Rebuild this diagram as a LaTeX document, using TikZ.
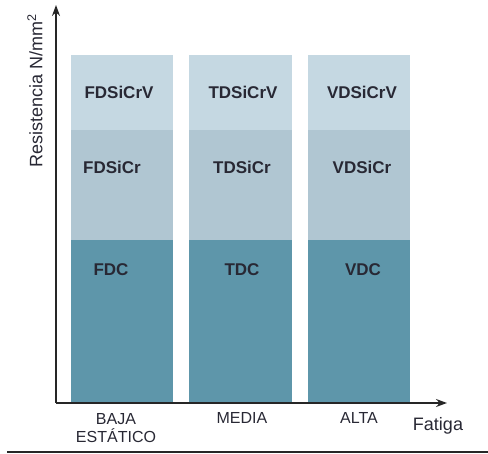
\documentclass[tikz,border=0pt]{standalone}
\usepackage{fontspec}
\setmainfont{Liberation Sans}
\usepackage{tikz}
\usetikzlibrary{arrows.meta}

\definecolor{capaalta}{RGB}{197,216,226}
\definecolor{capamedia}{RGB}{176,198,210}
\definecolor{capabaja}{RGB}{94,150,170}
\definecolor{ejes}{RGB}{38,38,38}
\definecolor{texto}{RGB}{40,40,52}

\tikzset{
    acero/.style = {text = texto, font = \fontsize{17}{20}\selectfont\bfseries},
    nivel/.style = {text = texto, font = \fontsize{16}{19}\selectfont, align = center},
    eje/.style = {ejes, line width = 1.5pt, -{Stealth[length = 11pt, width = 8pt]}}
}

\begin{document}
\begin{tikzpicture}[x = 1pt, y = 1pt]
            \useasboundingbox (0,0) rectangle (488,454);

            % columnas
            \fill [capabaja] (71,51) rectangle (173,214);
            \fill [capamedia] (71,214) rectangle (173,324);
            \fill [capaalta] (71,324) rectangle (173,399);

            \fill [capabaja] (189,51) rectangle (292,214);
            \fill [capamedia] (189,214) rectangle (292,324);
            \fill [capaalta] (189,324) rectangle (292,399);

            \fill [capabaja] (308,51) rectangle (410,214);
            \fill [capamedia] (308,214) rectangle (410,324);
            \fill [capaalta] (308,324) rectangle (410,399);

            \node [acero] (f3) at (119,362) {FDSiCrV};
            \node [acero] (f2) at (112,287) {FDSiCr};
            \node [acero] (f1) at (111,184) {FDC};

            \node [acero] (t3) at (243,362) {TDSiCrV};
            \node [acero] (t2) at (242,287) {TDSiCr};
            \node [acero] (t1) at (242,184) {TDC};

            \node [acero] (v3) at (362,362) {VDSiCrV};
            \node [acero] (v2) at (362,287) {VDSiCr};
            \node [acero] (v1) at (363,184) {VDC};

            % ejes
            \coordinate (o) at (56,51);
            \coordinate (ytop) at (56,449);
            \coordinate (xend) at (447,51);
            \draw [eje] (o) -- (ytop);
            \draw [eje] (o) -- (xend);

            \node [nivel, inner sep = 0pt] (baja) at (116,26) {BAJA\\[-1pt]ESTÁTICO};
            \node [nivel] (media) at (242,36) {MEDIA};
            \node [nivel] (alta) at (359,36) {ALTA};

            \node [text = texto, font = \fontsize{18}{21}\selectfont] (fatiga) at (438,28) {Fatiga};
            \node [text = texto, font = \fontsize{18}{21}\selectfont, rotate = 90]
                (resist) at (35,363) {Resistencia N/mm\textsuperscript{2}};

            \coordinate (pie0) at (7,2);
            \coordinate (pie1) at (488,2);
            \draw [ejes, line width = 2pt] (pie0) -- (pie1);
        \end{tikzpicture}
\end{document}
